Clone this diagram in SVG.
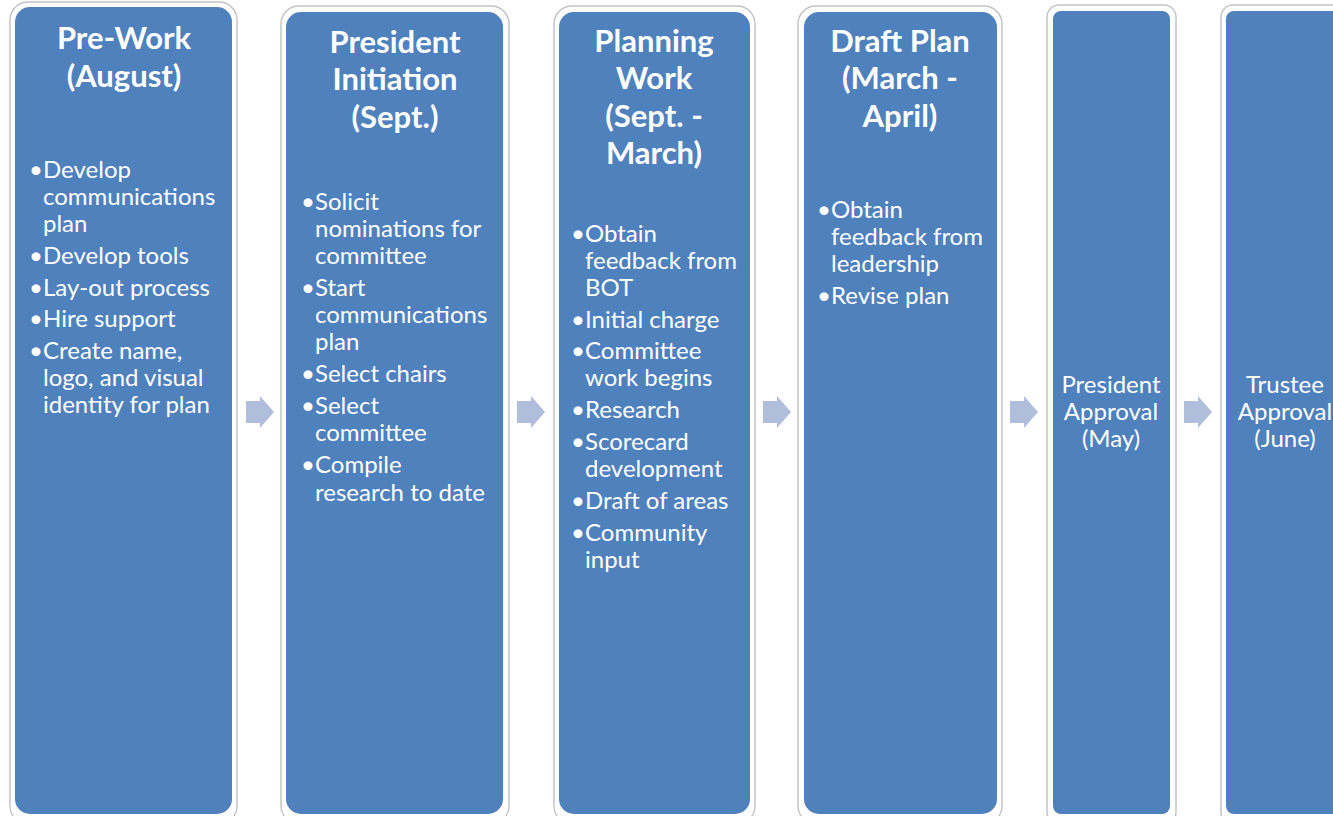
<svg xmlns="http://www.w3.org/2000/svg" width="1333" height="816" viewBox="0 0 1333 816">
<defs>
<style>
.outer{fill:#ffffff;stroke:#c4c4c4;stroke-width:1.5}
.inner{fill:#4f81bd}
.title{font-family:Lato,"Open Sans",sans-serif;font-weight:bold;font-size:31px;fill:#ffffff;text-anchor:middle}
.body{font-family:Lato,"Open Sans",sans-serif;font-size:24px;fill:#ffffff}
.mid{font-family:Lato,"Open Sans",sans-serif;font-size:24px;fill:#ffffff;text-anchor:middle}
.arrow{fill:#b0bedc}
</style>
<polygon id="arr" points="0,-11 14,-11 14,-16 28,0 14,16 14,11 0,11"/>
</defs>
<rect width="1333" height="816" fill="#ffffff"/>

<g id="node-prework">
<rect class="outer" x="10" y="2" width="227" height="822" rx="18"/>
<rect class="inner" x="15" y="7" width="217" height="807" rx="15"/>
<text class="title" x="124" y="49">Pre-Work</text>
<text class="title" x="124" y="87">(August)</text>
<g class="body">
<text x="29" y="178">•</text><text x="43" y="178">Develop</text>
<text x="43" y="205">communications</text>
<text x="43" y="232">plan</text>
<text x="29" y="264">•</text><text x="43" y="264">Develop tools</text>
<text x="29" y="296">•</text><text x="43" y="296">Lay-out process</text>
<text x="29" y="327">•</text><text x="43" y="327">Hire support</text>
<text x="29" y="359">•</text><text x="43" y="359">Create name,</text>
<text x="43" y="386">logo, and visual</text>
<text x="43" y="413">identity for plan</text>
</g>
</g>

<g id="node-president-initiation">
<rect class="outer" x="281" y="6" width="228" height="818" rx="18"/>
<rect class="inner" x="286" y="12" width="217" height="802" rx="15"/>
<text class="title" x="395" y="53">President</text>
<text class="title" x="395" y="90">Initiation</text>
<text class="title" x="395" y="128">(Sept.)</text>
<g class="body">
<text x="301" y="210">•</text><text x="315" y="210">Solicit</text>
<text x="315" y="237">nominations for</text>
<text x="315" y="264">committee</text>
<text x="301" y="296">•</text><text x="315" y="296">Start</text>
<text x="315" y="323">communications</text>
<text x="315" y="350">plan</text>
<text x="301" y="382">•</text><text x="315" y="382">Select chairs</text>
<text x="301" y="414">•</text><text x="315" y="414">Select</text>
<text x="315" y="441">committee</text>
<text x="301" y="473">•</text><text x="315" y="473">Compile</text>
<text x="315" y="501">research to date</text>
</g>
</g>

<g id="node-planning-work">
<rect class="outer" x="554" y="6" width="201" height="818" rx="18"/>
<rect class="inner" x="559" y="12" width="191" height="802" rx="15"/>
<text class="title" x="654" y="52">Planning</text>
<text class="title" x="654" y="89">Work</text>
<text class="title" x="654" y="127">(Sept. -</text>
<text class="title" x="654" y="164">March)</text>
<g class="body">
<text x="571" y="242">•</text><text x="585" y="242">Obtain</text>
<text x="585" y="269">feedback from</text>
<text x="585" y="296">BOT</text>
<text x="571" y="328">•</text><text x="585" y="328">Initial charge</text>
<text x="571" y="359">•</text><text x="585" y="359">Committee</text>
<text x="585" y="386">work begins</text>
<text x="571" y="418">•</text><text x="585" y="418">Research</text>
<text x="571" y="450">•</text><text x="585" y="450">Scorecard</text>
<text x="585" y="477">development</text>
<text x="571" y="509">•</text><text x="585" y="509">Draft of areas</text>
<text x="571" y="541">•</text><text x="585" y="541">Community</text>
<text x="585" y="568">input</text>
</g>
</g>

<g id="node-draft-plan">
<rect class="outer" x="798" y="6" width="204" height="818" rx="18"/>
<rect class="inner" x="804" y="12" width="193" height="802" rx="15"/>
<text class="title" x="900" y="52">Draft Plan</text>
<text class="title" x="900" y="89">(March -</text>
<text class="title" x="900" y="127">April)</text>
<g class="body">
<text x="817" y="218">•</text><text x="831" y="218">Obtain</text>
<text x="831" y="245">feedback from</text>
<text x="831" y="272">leadership</text>
<text x="817" y="304">•</text><text x="831" y="304">Revise plan</text>
</g>
</g>

<g id="node-president-approval">
<rect class="outer" x="1047" y="5" width="129" height="819" rx="12"/>
<rect class="inner" x="1053" y="11" width="117" height="803" rx="8"/>
<text class="mid" x="1111" y="393">President</text>
<text class="mid" x="1111" y="420">Approval</text>
<text class="mid" x="1111" y="447">(May)</text>
</g>

<g id="node-trustee-approval">
<rect class="outer" x="1221" y="5" width="129" height="819" rx="12"/>
<rect class="inner" x="1226" y="11" width="117" height="803" rx="8"/>
<text class="mid" x="1285" y="393">Trustee</text>
<text class="mid" x="1285" y="420">Approval</text>
<text class="mid" x="1285" y="447">(June)</text>
</g>

<g id="connectors" class="arrow">
<use href="#arr" x="246" y="412"/>
<use href="#arr" x="517" y="412"/>
<use href="#arr" x="763" y="412"/>
<use href="#arr" x="1010" y="412"/>
<use href="#arr" x="1184" y="412"/>
</g>
</svg>
